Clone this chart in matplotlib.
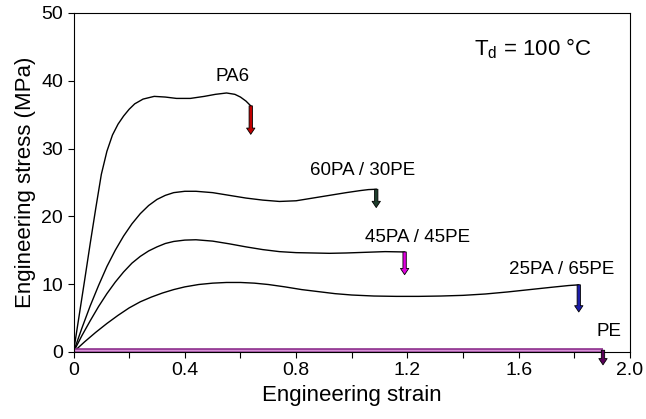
import matplotlib
matplotlib.use("Agg")
import matplotlib.pyplot as plt
from matplotlib.ticker import MultipleLocator

plt.rcParams.update({
    "font.family": ["Liberation Sans", "DejaVu Sans"],
    "font.size": 14,
})

# ── Data ─────────────────────────────────────────────────────────────────────
pa6_strain = [0, 0.02, 0.04, 0.06, 0.08, 0.10, 0.12, 0.14, 0.16, 0.18, 0.20, 0.22,
              0.25, 0.29, 0.33, 0.37, 0.42, 0.47, 0.51, 0.55, 0.58, 0.60, 0.62, 0.637]
pa6_stress = [0, 5.3, 10.6, 16.0, 21.2, 26.2, 29.6, 32.0, 33.6, 34.8, 35.8, 36.6,
              37.3, 37.7, 37.6, 37.4, 37.4, 37.7, 38.0, 38.2, 38.0, 37.6, 37.0, 36.3]

pa60_strain = [0, 0.03, 0.06, 0.09, 0.12, 0.15, 0.18, 0.21, 0.24, 0.27, 0.30, 0.33,
               0.36, 0.40, 0.44, 0.50, 0.56, 0.62, 0.68, 0.74, 0.80, 0.86, 0.92,
               0.98, 1.03, 1.06, 1.088]
pa60_stress = [0, 3.5, 6.8, 9.8, 12.6, 15.0, 17.1, 18.9, 20.4, 21.6, 22.5, 23.1,
               23.5, 23.7, 23.7, 23.5, 23.1, 22.7, 22.4, 22.2, 22.3, 22.7, 23.1,
               23.5, 23.8, 23.95, 24.0]

pa45_strain = [0, 0.03, 0.06, 0.09, 0.12, 0.15, 0.18, 0.21, 0.24, 0.27, 0.30, 0.33,
               0.36, 0.40, 0.44, 0.50, 0.56, 0.62, 0.68, 0.74, 0.80, 0.86, 0.92,
               0.98, 1.05, 1.12, 1.19]
pa45_stress = [0, 2.4, 4.6, 6.7, 8.6, 10.3, 11.8, 13.1, 14.1, 14.9, 15.5, 16.0,
               16.3, 16.5, 16.55, 16.35, 15.95, 15.5, 15.1, 14.8, 14.65, 14.6, 14.55,
               14.6, 14.7, 14.8, 14.75]

pa25_strain = [0, 0.04, 0.08, 0.12, 0.16, 0.20, 0.24, 0.28, 0.32, 0.36, 0.40, 0.45,
               0.50, 0.55, 0.60, 0.65, 0.70, 0.76, 0.82, 0.88, 0.94, 1.00, 1.08,
               1.16, 1.24, 1.32, 1.40, 1.48, 1.56, 1.64, 1.72, 1.78, 1.816]
pa25_stress = [0, 1.5, 2.9, 4.2, 5.4, 6.5, 7.4, 8.1, 8.7, 9.2, 9.6, 9.95,
               10.15, 10.25, 10.25, 10.15, 9.95, 9.6, 9.2, 8.9, 8.6, 8.4, 8.25,
               8.2, 8.2, 8.25, 8.35, 8.55, 8.85, 9.2, 9.55, 9.8, 9.9]

pe_strain = [0, 1.903]
pe_stress = [0.25, 0.25]

# break points: (strain, stress at break, arrow tip stress)
breaks = {
    "PA6":         (0.637, 36.3, 32.1),
    "60PA / 30PE": (1.088, 24.0, 21.3),
    "45PA / 45PE": (1.190, 14.75, 11.4),
    "25PA / 65PE": (1.816, 9.9, 5.9),
    "PE":          (1.903, 0.25, -1.9),
}
arrow_colors = {
    "PA6":         "#c00000",
    "60PA / 30PE": "#1e3d2c",
    "45PA / 45PE": "#e000e0",
    "25PA / 65PE": "#1c1ca8",
    "PE":          "#5a005a",
}
label_pos = {
    "PA6":         (0.572, 40.6),
    "60PA / 30PE": (1.038, 26.8),
    "45PA / 45PE": (1.235, 16.9),
    "25PA / 65PE": (1.754, 12.1),
    "PE":          (1.923, 3.0),
}

# ── Figure ───────────────────────────────────────────────────────────────────
fig = plt.figure(figsize=(6.46, 4.19), dpi=100)
ax = fig.add_axes([0.1138, 0.160, 0.8614, 0.809])

for xs, ys in [(pa6_strain, pa6_stress), (pa60_strain, pa60_stress),
               (pa45_strain, pa45_stress), (pa25_strain, pa25_stress)]:
    ax.plot(xs, ys, color="black", lw=1.0)

ax.plot(pe_strain, pe_stress, color="#8a2a8a", lw=2.6, solid_capstyle="butt")
ax.plot(pe_strain, pe_stress, color="#d890d8", lw=1.0, solid_capstyle="butt")

for name, (bx, top, tip) in breaks.items():
    ax.annotate("", xy=(bx, tip), xytext=(bx, top), annotation_clip=False,
                arrowprops=dict(width=2.4, headwidth=6, headlength=4.5, shrink=0,
                                facecolor=arrow_colors[name], edgecolor="black",
                                lw=0.6))
    lx, ly = label_pos[name]
    ax.text(lx, ly, name, ha="center", va="center", fontsize=13.5)

ax.text(1.861, 44.7, r"T$_\mathregular{d}$ = 100 °C", ha="right", va="center",
        fontsize=16)

ax.set_xlim(0, 2.0)
ax.set_ylim(0, 50)
ax.xaxis.set_minor_locator(MultipleLocator(0.2))
ax.set_xticks([0, 0.4, 0.8, 1.2, 1.6, 2.0])
ax.set_xticklabels(["0", "0.4", "0.8", "1.2", "1.6", "2.0"])
ax.yaxis.set_major_locator(MultipleLocator(10))
ax.tick_params(which="both", direction="out", length=4, width=0.8)
ax.tick_params(labelsize=14)
for s in ax.spines.values():
    s.set_linewidth(0.8)

ax.set_xlabel("Engineering strain", fontsize=16, labelpad=4)
ax.set_ylabel("Engineering stress (MPa)", fontsize=16, labelpad=4)

fig.savefig("out.png", dpi=100)
